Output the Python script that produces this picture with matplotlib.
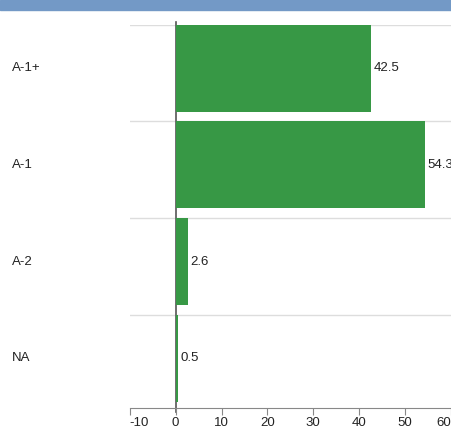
import matplotlib.pyplot as plt
from matplotlib.patches import Rectangle

plt.rcParams["font.family"] = ["Liberation Sans", "DejaVu Sans"]

# data
categories = ["A-1+", "A-1", "A-2", "NA"]
values = [42.5, 54.3, 2.6, 0.5]
x_ticks = [-10, 0, 10, 20, 30, 40, 50, 60]

W, H = 451, 428
fig = plt.figure(figsize=(W / 100, H / 100), dpi=100)

# header band
fig.patches.append(Rectangle((0, 1 - 10 / H), 1, 10 / H, transform=fig.transFigure,
                             color="#7399c6", zorder=0))

ax_left, ax_top, ax_bottom = 129.7 / W, 1 - 24.5 / H, 1 - 407.7 / H
ax = fig.add_axes([ax_left, ax_bottom, 1 - ax_left, ax_top - ax_bottom])

bar_h = 0.9
ypos = list(range(len(categories)))
ax.barh(ypos, values, height=bar_h, align="edge", color="#379845", zorder=2)

ax.set_xlim(-10, 59.85)
ax.set_ylim(len(categories) - 0.04, 0)

# category separators
for y in ypos:
    ax.axhline(y, color="#dddddd", linewidth=1, zorder=1)

# zero line (sits behind the bars)
ax.plot([0, 0], [len(categories), -0.03], color="#555555", linewidth=1.2,
        zorder=1.5, clip_on=False)

# value labels
for y, v in zip(ypos, values):
    ax.annotate(f"{v}", xy=(v, y + bar_h / 2), xytext=(2, 0),
                textcoords="offset points", ha="left", va="center",
                fontsize=9.5, color="#222222", annotation_clip=False)

# category labels on the left
for y, c in zip(ypos, categories):
    disp = ax.transData.transform((0, y + bar_h / 2))
    fy = fig.transFigure.inverted().transform(disp)[1]
    fig.text(12 / W, fy, c, ha="left", va="center", fontsize=9.5, color="#222222")

ax.set_xticks(x_ticks)
ax.set_xticklabels([str(t) for t in x_ticks], fontsize=9.5, color="#222222")
ax.get_xticklabels()[0].set_horizontalalignment("left")
ax.get_xticklabels()[-1].set_horizontalalignment("right")
ax.set_yticks([])
ax.tick_params(axis="x", length=5, color="#888888", pad=2)
for side in ["top", "right", "left"]:
    ax.spines[side].set_visible(False)
ax.spines["bottom"].set_color("#888888")
ax.patch.set_alpha(0)

fig.savefig("out.png", dpi=100)
